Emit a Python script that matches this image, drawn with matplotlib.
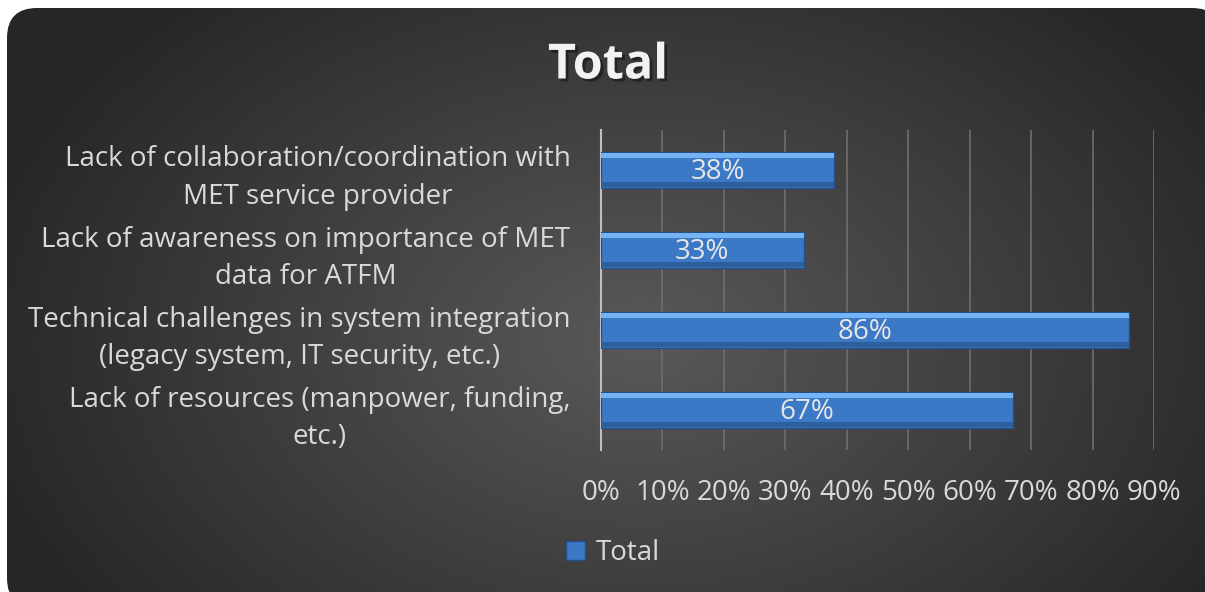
import numpy as np
import matplotlib.pyplot as plt
import matplotlib.patheffects as pe
from matplotlib.patches import FancyBboxPatch

categories = [
    "Lack of collaboration/coordination with\nMET service provider",
    "Lack of awareness on importance of MET\ndata for ATFM",
    "Technical challenges in system integration\n(legacy system, IT security, etc.)",
    "Lack of resources (manpower, funding,\netc.)",
]
values = [0.38, 0.33, 0.86, 0.67]
xticks = [0.0, 0.1, 0.2, 0.3, 0.4, 0.5, 0.6, 0.7, 0.8, 0.9]
xtick_labels = ["0%", "10%", "20%", "30%", "40%", "50%", "60%", "70%", "80%", "90%"]

plt.rcParams["font.family"] = ["Open Sans", "DejaVu Sans"]
text_col = "#d9d9d9"

fig = plt.figure(figsize=(12.05, 5.92), dpi=100, facecolor="white")

# background panel with gradient and rounded corners
bg = fig.add_axes([0, 0, 1, 1], zorder=-1)
bg.set_xlim(0, 1205)
bg.set_ylim(592, 0)
bg.axis("off")
yy, xx = np.mgrid[0:592, 0:1205]
d = np.sqrt(((xx - 640) / 650.0) ** 2 + ((yy - 340) / 440.0) ** 2)
shade = np.clip(0.35 - 0.19 * d, 0.15, 0.36)
img = np.dstack([shade, shade, shade])
im = bg.imshow(img, extent=(0, 1205, 592, 0), aspect="auto", interpolation="bilinear")
panel = FancyBboxPatch((7, 8), 1215, 600, boxstyle="round,pad=0,rounding_size=30",
                       transform=bg.transData, facecolor="none", edgecolor="none")
bg.add_patch(panel)
im.set_clip_path(panel)

ax = fig.add_axes([601 / 1205, 1 - 450 / 592, 553 / 1205, 320 / 592])
ax.set_facecolor("none")
y = np.arange(len(categories))
h = 0.45
ax.barh(y, values, height=h, color="#3b78c6", edgecolor="#24508a", linewidth=1, zorder=3)
# bevel highlights
ax.barh(y - h / 2 + 0.045, values, height=0.07, color="#74b4f4", linewidth=0, zorder=4)
ax.barh(y + h / 2 - 0.04, values, height=0.06, color="#2d5f9c", linewidth=0, zorder=4)

for yi, v in zip(y, values):
    ax.text(v / 2, yi + 0.02, f"{v:.0%}", ha="center", va="center", color="#e6e6e6",
            fontsize=20, zorder=5)

ax.set_xlim(0, 0.9)
ax.set_ylim(len(categories) - 0.5, -0.5)
ax.set_xticks(xticks)
ax.set_xticklabels(xtick_labels)
ax.set_yticks(y)
ax.set_yticklabels(categories)
for lab in ax.get_yticklabels():
    lab.set_multialignment("center")
    lab.set_linespacing(1.45)
ax.tick_params(axis="x", length=0, pad=21, labelsize=20, labelcolor=text_col)
ax.tick_params(axis="y", length=0, pad=22, labelsize=20, labelcolor=text_col)
ax.grid(axis="x", color="#6e6e6e", linewidth=1.2, zorder=0)
for s in ["top", "right", "bottom"]:
    ax.spines[s].set_visible(False)
ax.spines["left"].set_color("#bfbfbf")
ax.spines["left"].set_linewidth(1.5)

fig.text(608 / 1205, 1 - 66 / 592, "Total", ha="center", va="center", fontsize=35,
         fontweight="bold", color="#f2f2f2",
         path_effects=[pe.withSimplePatchShadow(offset=(2, -2), shadow_rgbFace="black", alpha=0.4)])

handle = plt.Rectangle((0, 0), 1, 1, facecolor="#3b78c6", edgecolor="#24508a")
fig.legend([handle], ["Total"], loc="center", bbox_to_anchor=(613 / 1205, 1 - 553 / 592),
           frameon=False, fontsize=20, labelcolor=text_col, handlelength=0.7,
           handleheight=0.7, handletextpad=0.4)

fig.savefig("out.png", dpi=100, facecolor="white")
